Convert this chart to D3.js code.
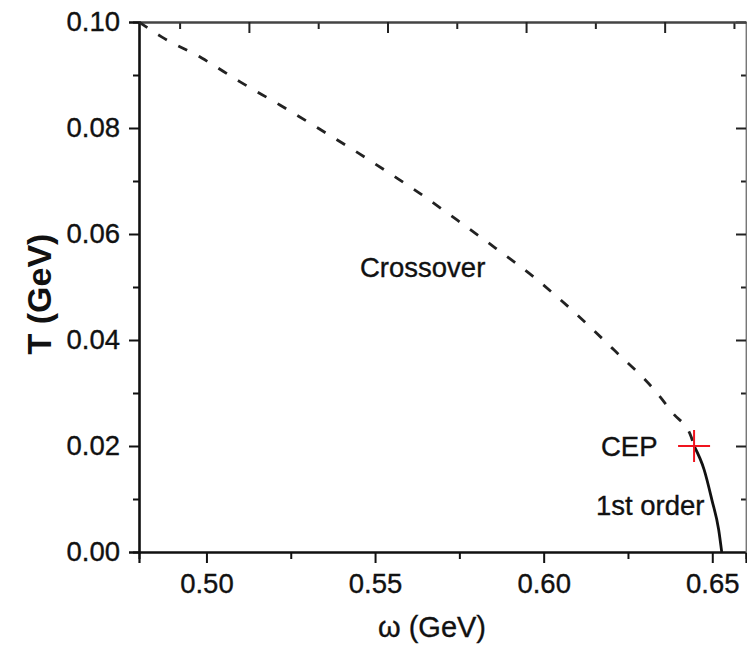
<!DOCTYPE html>
<html>
<head>
<meta charset="utf-8">
<script src="https://cdn.jsdelivr.net/npm/d3@7"></script>
<style>
  html, body { margin: 0; padding: 0; background: #fff; }
  svg { display: block; }
  text { font-family: "Liberation Sans", Arial, Helvetica, sans-serif; fill: #111; stroke: #111; stroke-width: 0.35px; }
</style>
</head>
<body>
<svg id="chart" width="747" height="646"></svg>
<script>
// Crossover line (dashed), from the low-omega edge down to the critical end point
const crossoverOmega = [0.480, 0.4867, 0.4986, 0.5100, 0.5219, 0.5333, 0.5452, 0.5566, 0.5625,
                        0.5744, 0.5858, 0.5976, 0.6090, 0.6209, 0.6328, 0.6383, 0.6437, 0.6446];
const crossoverT     = [0.100, 0.0972, 0.0932, 0.0887, 0.0843, 0.0799, 0.0752, 0.0705, 0.0680,
                        0.0626, 0.0573, 0.0516, 0.0453, 0.0381, 0.0306, 0.0262, 0.0218, 0.0200];

// First-order transition line (solid), from the CEP to T = 0
const firstOrderOmega = [0.6446, 0.6476, 0.6499, 0.6519, 0.6528];
const firstOrderT     = [0.0200, 0.0155, 0.0098, 0.0042, 0.0000];

// Critical end point
const cepOmega = 0.6446;
const cepT = 0.0200;

// Axis ticks
const xMajorTicks = [0.50, 0.55, 0.60, 0.65];
const xMinorTicks = [0.525, 0.575, 0.625];
const yMajorTicks = [0.00, 0.02, 0.04, 0.06, 0.08, 0.10];
const yMinorTicks = [0.01, 0.03, 0.05, 0.07, 0.09];
const topMajorTicks = [1, 2, 3, 4];
const topMinorTicks = [0.5, 1.5, 2.5, 3.5, 4.5];

const xDomain = [0.48, 0.66];
const yDomain = [0, 0.10];
const topDomain = [0.207, 4.587];

const margin = { left: 139, top: 22, right: 1, bottom: 94 };
const W = 747, H = 646;
const svg = d3.select("#chart");

const x = d3.scaleLinear().domain(xDomain).range([margin.left, W - margin.right]);
const y = d3.scaleLinear().domain(yDomain).range([H - margin.bottom, margin.top]);
const xTop = d3.scaleLinear().domain(topDomain).range([margin.left, W - margin.right]);

const fmt2 = d3.format(".2f");

function styleAxis(g, color, width) {
  g.select(".domain").attr("stroke", color).attr("stroke-width", width);
  g.selectAll(".tick line").attr("stroke", color).attr("stroke-width", 2);
  g.selectAll("text").style("font-size", "27.5px").attr("fill", "#111");
}

// Bottom axis: major + minor ticks, pointing outward
const gxMinor = svg.append("g").attr("transform", `translate(0,${y(0)})`)
  .call(d3.axisBottom(x).tickValues(xMinorTicks).tickSize(7).tickFormat(""));
styleAxis(gxMinor, "#111", 2);
const gx = svg.append("g").attr("transform", `translate(0,${y(0)})`)
  .call(d3.axisBottom(x).tickValues(xMajorTicks).tickSize(11).tickPadding(10).tickFormat(fmt2));
styleAxis(gx, "#111", 2.2);

// Left axis
const gyMinor = svg.append("g").attr("transform", `translate(${x(xDomain[0])},0)`)
  .call(d3.axisLeft(y).tickValues(yMinorTicks).tickSize(6).tickFormat(""));
styleAxis(gyMinor, "#111", 2);
const gy = svg.append("g").attr("transform", `translate(${x(xDomain[0])},0)`)
  .call(d3.axisLeft(y).tickValues(yMajorTicks).tickSize(10).tickPadding(9).tickFormat(fmt2));
styleAxis(gy, "#111", 2.2);

// Right axis: mirrored ticks pointing inward, no labels
const gr = svg.append("g").attr("transform", `translate(${x(xDomain[1])},0)`);
gr.append("g").call(d3.axisLeft(y).tickValues(yMinorTicks).tickSize(5).tickFormat("").tickSizeOuter(0));
gr.append("g").call(d3.axisLeft(y).tickValues(yMajorTicks.slice(1)).tickSize(10).tickFormat("").tickSizeOuter(0));
gr.selectAll(".domain").attr("stroke", "#777").attr("stroke-width", 1.5);
gr.selectAll(".tick line").attr("stroke", "#222").attr("stroke-width", 2);

// Top axis: ticks pointing inward, no labels
const gt = svg.append("g").attr("transform", `translate(0,${y(yDomain[1])})`);
gt.append("g").call(d3.axisBottom(xTop).tickValues(topMinorTicks).tickSize(7).tickFormat("").tickSizeOuter(0));
gt.append("g").call(d3.axisBottom(xTop).tickValues(topMajorTicks).tickSize(11).tickFormat("").tickSizeOuter(0));
gt.selectAll(".domain").attr("stroke", "#444").attr("stroke-width", 2.2);
gt.selectAll(".tick line").attr("stroke", "#222").attr("stroke-width", 2);

// Phase boundary lines
const line = d3.line().x(d => x(d[0])).y(d => y(d[1])).curve(d3.curveMonotoneX);

const crossover = crossoverOmega.map((w, i) => [w, crossoverT[i]]);
svg.append("path")
  .datum(crossover)
  .attr("d", line)
  .attr("fill", "none")
  .attr("stroke", "#222")
  .attr("stroke-width", 2.8)
  .attr("stroke-dasharray", "10,13");

const firstOrder = firstOrderOmega.map((w, i) => [w, firstOrderT[i]]);
svg.append("path")
  .datum(firstOrder)
  .attr("d", line)
  .attr("fill", "none")
  .attr("stroke", "#111")
  .attr("stroke-width", 2.8);

// CEP marker (red cross)
const cx = x(cepOmega), cy = y(cepT), arm = 16;
svg.append("g").attr("stroke", "#f0141e").attr("stroke-width", 2)
  .call(g => {
    g.append("line").attr("x1", cx - arm).attr("x2", cx + arm).attr("y1", cy).attr("y2", cy);
    g.append("line").attr("x1", cx).attr("x2", cx).attr("y1", cy - arm).attr("y2", cy + arm);
  });

// Annotations
svg.append("text").attr("x", 360).attr("y", 277).style("font-size", "27.5px").text("Crossover");
svg.append("text").attr("x", 601).attr("y", 456).style("font-size", "27.5px").text("CEP");
svg.append("text").attr("x", 596).attr("y", 515).style("font-size", "27.5px").text("1st order");

// Axis titles
svg.append("text")
  .attr("x", 432).attr("y", 637)
  .attr("text-anchor", "middle")
  .style("font-size", "29px")
  .text("ω (GeV)");

svg.append("text")
  .attr("transform", `translate(51,294) rotate(-90)`)
  .attr("text-anchor", "middle")
  .style("font-size", "34px")
  .style("font-weight", "bold")
  .style("stroke-width", "0")
  .text("T (GeV)");
</script>
</body>
</html>
